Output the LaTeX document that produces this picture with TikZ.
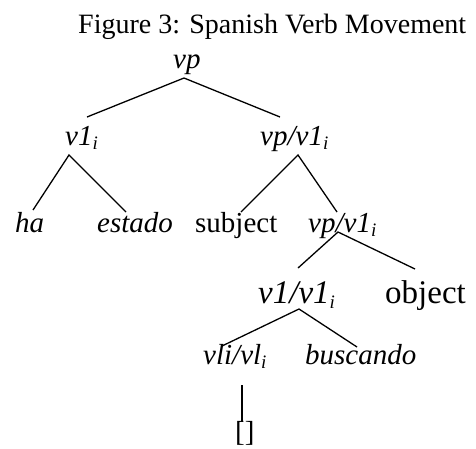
\documentclass[tikz,border=0pt]{standalone}
\usepackage{fontspec}
\setmainfont{Liberation Serif}
\newcommand{\mysub}[1]{\raisebox{-0.16em}{\fontsize{19}{20}\selectfont\itshape #1}}
\begin{document}
\begin{tikzpicture}[x=1pt,y=-1pt,
  lbl/.style={anchor=base west,inner sep=0pt,font=\fontsize{29}{32}\selectfont},
  big/.style={anchor=base west,inner sep=0pt,font=\fontsize{33}{36}\selectfont},
  edge/.style={line width=1.3pt}]
\useasboundingbox (0,0) rectangle (476,448);
\node[anchor=base west,inner sep=0pt,font=\fontsize{28}{30}\selectfont] (title) at (78,33) {Figure 3: Spanish Verb Movement};
\node[lbl] (vp) at (173,68) {\itshape vp};
\node[lbl] (v1i) at (65,145) {\itshape v1\mysub{i}};
\node[lbl] (vpv1a) at (260,145) {\itshape vp/v1\mysub{i}};
\node[lbl] (ha) at (15,232) {\itshape ha};
\node[lbl] (estado) at (97,232) {\itshape estado};
\node[lbl] (subject) at (195,232) {subject};
\node[lbl] (vpv1b) at (308,232) {\itshape vp/v1\mysub{i}};
\node[big] (v1v1) at (258,303) {\itshape v1/v1\mysub{i}};
\node[big] (object) at (385,303) {object};
\node[lbl] (vlivl) at (203,364) {\itshape vli/vl\mysub{i}};
\node[lbl] (busc) at (305,364) {\itshape buscando};
\node[lbl] (trace) at (235,441) {[]};
% connector end points
\coordinate (vpB) at (184,78);
\coordinate (v1iT) at (87,117);
\coordinate (vpv1aT) at (280,117);
\coordinate (v1iB) at (69,155);
\coordinate (haT) at (33,210);
\coordinate (estadoT) at (126,212);
\coordinate (vpv1aB) at (298,155);
\coordinate (subjectT) at (241,212);
\coordinate (vpv1bT) at (337,212);
\coordinate (vpv1bB) at (338,232);
\coordinate (v1v1T) at (298,268);
\coordinate (objectT) at (415,269);
\coordinate (v1v1B) at (299,309);
\coordinate (vlivlT) at (222,346);
\coordinate (buscT) at (357,347);
\coordinate (vlivlB) at (242,385);
\coordinate (traceT) at (242,422);
\draw[edge] (v1iT) -- (vpB) -- (vpv1aT);
\draw[edge] (haT) -- (v1iB) -- (estadoT);
\draw[edge] (subjectT) -- (vpv1aB) -- (vpv1bT);
\draw[edge] (v1v1T) -- (vpv1bB) -- (objectT);
\draw[edge] (vlivlT) -- (v1v1B) -- (buscT);
\draw[edge] (vlivlB) -- (traceT);
\end{tikzpicture}
\end{document}
